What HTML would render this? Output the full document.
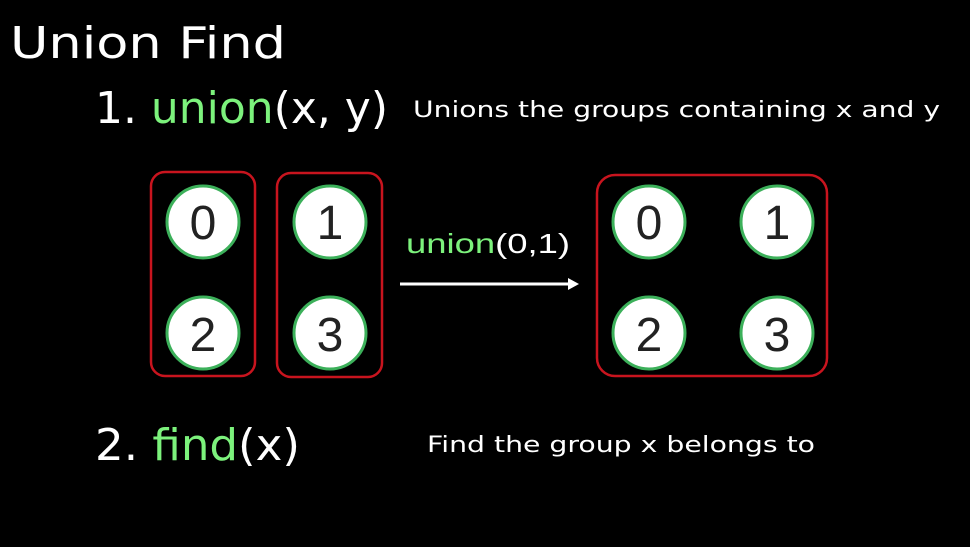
<!DOCTYPE html>
<html><head><style>
body{margin:0;width:970px;height:542px;background:#000;overflow:hidden;font-family:"Liberation Sans",sans-serif}
</style></head><body>
<svg width="970" height="542" xmlns="http://www.w3.org/2000/svg">
<rect width="970" height="542" fill="#000"/>
<g font-family="DejaVu Sans, Liberation Sans, sans-serif" fill="#fff">
<text x="10" y="58" font-size="44" textLength="276" lengthAdjust="spacingAndGlyphs">Union Find</text>
<text x="95" y="123" font-size="44" textLength="293" lengthAdjust="spacingAndGlyphs">1. <tspan fill="#7cf27c">union</tspan>(x, y)</text>
<text x="413" y="117" font-size="22" textLength="527" lengthAdjust="spacingAndGlyphs">Unions the groups containing x and y</text>
<text x="95" y="460" font-size="44" textLength="205" lengthAdjust="spacingAndGlyphs">2. <tspan fill="#7cf27c">find</tspan>(x)</text>
<text x="427" y="452" font-size="22" textLength="388" lengthAdjust="spacingAndGlyphs">Find the group x belongs to</text>
</g>
<g fill="none" stroke="#c8141e" stroke-width="2.5">
<rect x="151" y="172" width="104" height="204" rx="14"/>
<rect x="277" y="173" width="105" height="204" rx="14"/>
<rect x="597" y="175" width="230" height="201" rx="18"/>
</g>
<g fill="#fff" stroke="#3cb05a" stroke-width="3">
<circle cx="203" cy="222" r="36"/><circle cx="203" cy="333" r="36"/>
<circle cx="330" cy="222" r="36"/><circle cx="330" cy="333" r="36"/>
<circle cx="649" cy="222" r="36"/><circle cx="777" cy="222" r="36"/>
<circle cx="649" cy="333" r="36"/><circle cx="777" cy="333" r="36"/>
</g>
<g font-family="Liberation Sans, sans-serif" font-size="48" fill="#222" text-anchor="middle">
<text x="203" y="239">0</text><text x="203" y="351">2</text>
<text x="330" y="239">1</text><text x="330" y="351">3</text>
<text x="649" y="239">0</text><text x="777" y="239">1</text>
<text x="649" y="351">2</text><text x="777" y="351">3</text>
</g>
<text x="406" y="253" font-family="Liberation Sans, sans-serif" font-size="28" fill="#fff" textLength="164" lengthAdjust="spacingAndGlyphs"><tspan fill="#7cf27c">union</tspan>(0,1)</text>
<line x1="400" y1="284" x2="570" y2="284" stroke="#fff" stroke-width="3"/>
<polygon points="568,278 579,284 568,290" fill="#fff"/>
</svg>
</body></html>
